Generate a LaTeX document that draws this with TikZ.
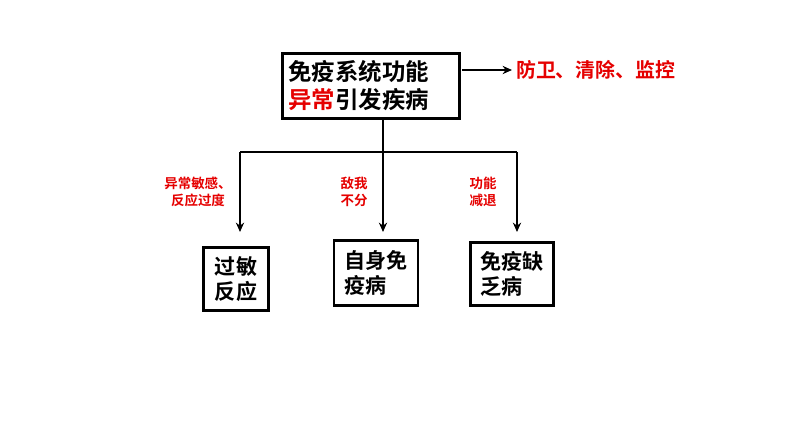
\documentclass[tikz,border=0pt]{standalone}
\usepackage{fontspec}
\setmainfont{Noto Sans CJK SC}
\newfontfamily\cjkb{Noto Sans CJK SC Bold}
\usetikzlibrary{positioning,arrows.meta}
\definecolor{myred}{rgb}{0.9,0,0}
\tikzset{
	box/.style={draw, line width=2.2pt, align=left, inner sep=3pt, font=\cjkb\fontsize{18}{22}\selectfont},
	tag/.style={text=myred, align=center, font=\cjkb\fontsize{11.5}{14}\selectfont},
	arr/.style={line width=1.4pt, -{Stealth[length=8pt,width=7pt]}}
}
\begin{document}
\begin{tikzpicture}[x=0.03cm,y=-0.03cm]
	\useasboundingbox (0,0) rectangle (794,447);
	
	% top
	\node[box, font=\cjkb\fontsize{20}{24}\selectfont, minimum width=177*0.03cm, minimum height=65*0.03cm, text width=165*0.03cm] (top) at (371,86) {免疫系统功能\\{\color{myred}异常}引发疾病};
	\node[text=myred, font=\cjkb\fontsize{17}{20}\selectfont, anchor=west] (role) at (512,70) {防卫、清除、监控};
	\draw[arr] (462,70) -- (role.west);
	
	% bottom
	\node[box, minimum width=65*0.03cm, minimum height=63*0.03cm] (allergy) at (236,279) {过敏\\反应};
	\node[box, minimum width=84*0.03cm, minimum height=65*0.03cm] (auto) at (376,273) {自身免\\疫病};
	\node[box, minimum width=83*0.03cm, minimum height=63*0.03cm] (defic) at (512,274) {免疫缺\\乏病};
	
	% branches
	\coordinate (split) at (383,152);
	\draw[line width=1.4pt] (240,152) -- (517,152);
	\draw[arr] (top.south -| split) -- (383,232);
	\draw[arr] (240,152) -- (240,232);
	\draw[arr] (517,152) -- (517,232);
	
	\node[tag] (t1) at (198,192) {异常敏感、\\反应过度};
	\node[tag] (t2) at (354,192) {敌我\\不分};
	\node[tag] (t3) at (483,192) {功能\\减退};
\end{tikzpicture}
\end{document}
